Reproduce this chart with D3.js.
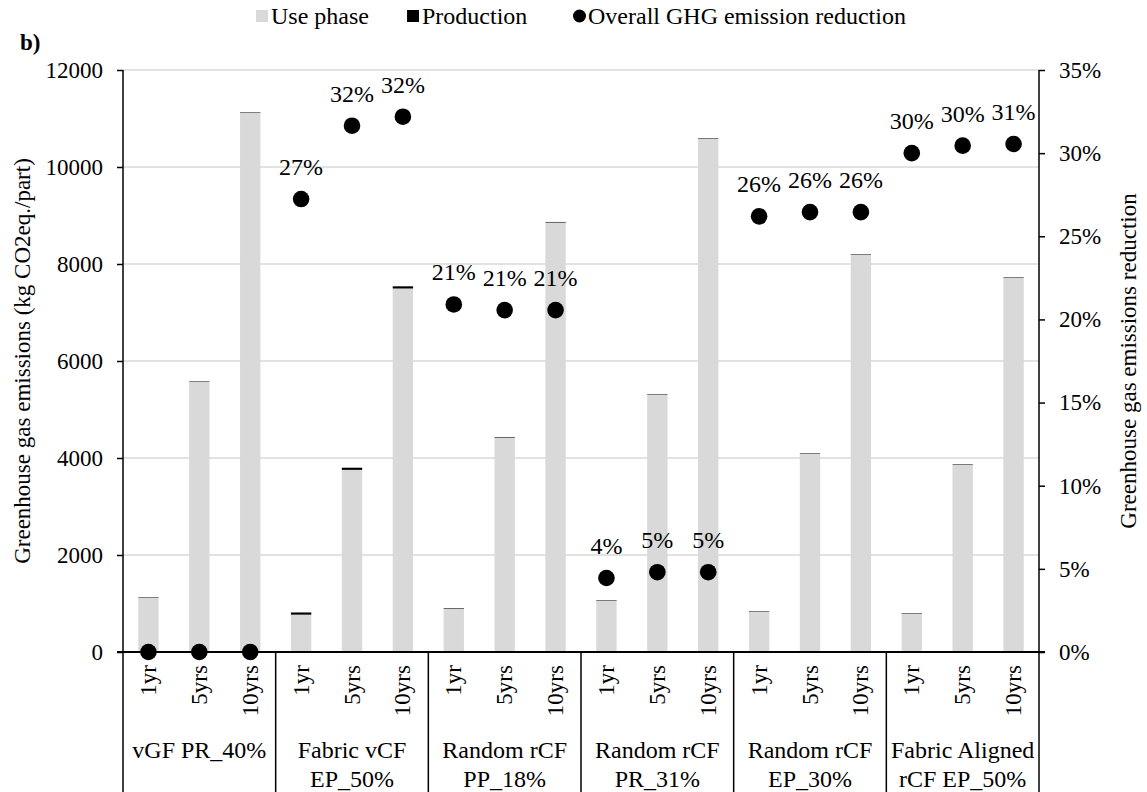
<!DOCTYPE html>
<html><head><meta charset="utf-8">
<script src="https://cdn.jsdelivr.net/npm/d3@7"></script>
<style>body{margin:0;background:#fff}svg{display:block}</style>
</head><body><svg id="c" width="1147" height="792"></svg>
<script>
const groups = [["vGF PR_40%"],["Fabric vCF","EP_50%"],["Random rCF","PP_18%"],["Random rCF","PR_31%"],["Random rCF","EP_30%"],["Fabric Aligned","rCF EP_50%"]];
const periods = ["1yr","5yrs","10yrs"];
const usePhase = [1120,5570,11120, 770,3755,7495, 890,4420,8855, 1062,5310,10588, 833,4092,8195, 792,3866,7720];
const production = [10,10,10, 45,45,45, 12,12,12, 10,10,10, 10,10,10, 10,10,10];
const reduction = [0,0,0, 0.2724,0.3165,0.3219, 0.209,0.2056,0.2056, 0.0445,0.048,0.048, 0.262,0.2645,0.2645, 0.300,0.3045,0.3055];
const leftTicks = [0,2000,4000,6000,8000,10000,12000];
const rightTicks = [0,0.05,0.10,0.15,0.20,0.25,0.30,0.35];
const legendItems = ["Use phase","Production","Overall GHG emission reduction"];

const FONT = "'Liberation Serif', 'Times New Roman', serif";
const svg = d3.select("#c");
const L=123, R=1039, T=70, B=652, BOT=792;
const keys = [];
groups.forEach((g,gi)=>periods.forEach((p,pi)=>keys.push(gi+"|"+pi)));
const x = d3.scaleBand().domain(keys).range([L,R]).paddingInner(0.6).paddingOuter(0.3);
const y = d3.scaleLinear().domain([0,12000]).range([B,T]);
const y2 = d3.scaleLinear().domain([0,0.35]).range([B,T]);
const fs = 23;

// gridlines
svg.append("g").selectAll("line").data(leftTicks.slice(1)).join("line")
  .attr("x1",L).attr("x2",R).attr("y1",d=>y(d)).attr("y2",d=>y(d))
  .attr("stroke","#d9d9d9").attr("stroke-width",1.5);

// bars
const data = keys.map((k,i)=>({k,use:usePhase[i],prod:production[i],red:reduction[i]}));
svg.append("g").selectAll("rect").data(data).join("rect")
  .attr("x",d=>x(d.k)).attr("width",x.bandwidth())
  .attr("y",d=>y(d.use)).attr("height",d=>B-y(d.use)).attr("fill","#d9d9d9");
svg.append("g").selectAll("rect").data(data).join("rect")
  .attr("x",d=>x(d.k)).attr("width",x.bandwidth())
  .attr("y",d=>y(d.use+d.prod)).attr("height",d=>y(d.use)-y(d.use+d.prod)).attr("fill","#000");

// left axis
const ax = svg.append("g").attr("transform",`translate(${L},0)`)
  .call(d3.axisLeft(y).tickValues(leftTicks).tickSize(6).tickPadding(14).tickFormat(d3.format("d")));
ax.select(".domain").remove();
ax.selectAll("line").attr("stroke","#000").attr("stroke-width",1.5);
ax.selectAll("text").attr("font-size",fs);
// right axis
const ax2 = svg.append("g").attr("transform",`translate(${R},0)`)
  .call(d3.axisRight(y2).tickValues(rightTicks).tickSize(6).tickPadding(14).tickFormat(d3.format(".0%")));
ax2.select(".domain").remove();
ax2.selectAll("line").attr("stroke","#000").attr("stroke-width",1.5);
ax2.selectAll("text").attr("font-size",fs);

// axis lines
svg.append("line").attr("x1",L).attr("x2",L).attr("y1",T).attr("y2",BOT).attr("stroke","#000").attr("stroke-width",1.5);
svg.append("line").attr("x1",R).attr("x2",R).attr("y1",T).attr("y2",BOT).attr("stroke","#000").attr("stroke-width",1.5);
svg.append("line").attr("x1",L-6).attr("x2",R+6).attr("y1",B).attr("y2",B).attr("stroke","#000").attr("stroke-width",2);

// group separators
const gw = (R-L)/groups.length;
svg.append("g").selectAll("line").data(d3.range(1,groups.length)).join("line")
  .attr("x1",d=>L+d*gw).attr("x2",d=>L+d*gw).attr("y1",B).attr("y2",BOT)
  .attr("stroke","#000").attr("stroke-width",1.5);

// period labels
svg.append("g").selectAll("text").data(data).join("text")
  .attr("transform",d=>`translate(${x(d.k)+x.bandwidth()/2},665) rotate(-90)`)
  .attr("text-anchor","end").attr("dominant-baseline","central")
  .attr("font-size",fs).text(d=>periods[+d.k.split("|")[1]]);

// group labels
groups.forEach((g,gi)=>{
  g.forEach((line,li)=>{
    svg.append("text").attr("x",L+gw*(gi+0.5)).attr("y",758+li*29)
      .attr("text-anchor","middle").attr("font-size",24).text(line);
  });
});

// dots
svg.append("g").selectAll("circle").data(data).join("circle")
  .attr("cx",d=>x(d.k)+x.bandwidth()/2).attr("cy",d=>y2(d.red)).attr("r",8.3).attr("fill","#000");
svg.append("g").selectAll("text").data(data.filter(d=>d.red>0)).join("text")
  .attr("x",d=>x(d.k)+x.bandwidth()/2).attr("y",d=>y2(d.red)-24)
  .attr("text-anchor","middle").attr("font-size",24).text(d=>d3.format(".0%")(d.red));

// axis titles
svg.append("text").attr("transform",`translate(22,${(T+B)/2}) rotate(-90)`)
  .attr("text-anchor","middle").attr("dominant-baseline","central").attr("font-size",fs)
  .text("Greenhouse gas emissions (kg CO2eq./part)");
svg.append("text").attr("transform",`translate(1128,${(T+B)/2}) rotate(-90)`)
  .attr("text-anchor","middle").attr("dominant-baseline","central").attr("font-size",fs)
  .text("Greenhouse gas emissions reduction");

// b)
svg.append("text").attr("x",20).attr("y",50).attr("font-size",23).attr("font-weight","bold").text("b)");

// legend
const lg = svg.append("g");
const lx = [256, 407, 573];
lg.append("rect").attr("x",lx[0]).attr("y",10).attr("width",12).attr("height",12).attr("fill","#d9d9d9");
lg.append("rect").attr("x",lx[1]).attr("y",10).attr("width",12).attr("height",12).attr("fill","#000");
lg.append("circle").attr("cx",lx[2]+6.5).attr("cy",16).attr("r",6.5).attr("fill","#000");
legendItems.forEach((t,i)=>lg.append("text").attr("x",lx[i]+15).attr("y",24).attr("font-size",24).text(t));

svg.selectAll("text").style("font-family",FONT).attr("fill","#000");
</script></body></html>
